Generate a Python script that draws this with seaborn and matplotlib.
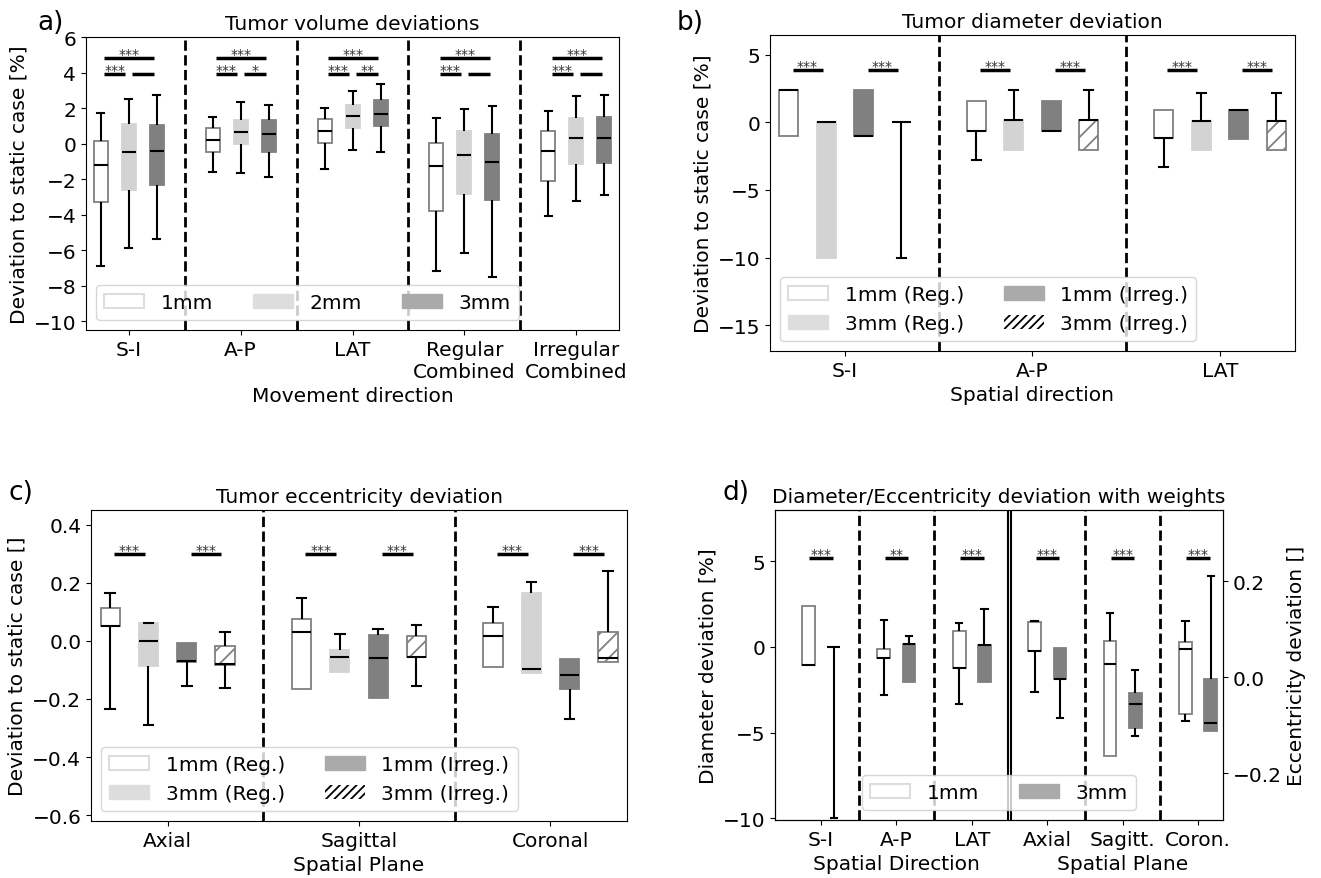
import numpy as np
import pandas as pd
import seaborn as sns
import matplotlib.pyplot as plt
from matplotlib.patches import Patch

plt.rcParams["font.size"] = 14.5
plt.rcParams["hatch.linewidth"] = 1.3

WHITE, LIGHT, DARK = "white", "#d3d3d3", "#808080"
EDGE = "#808080"

# every box is given as its five numbers: [min, q1, median, q3, max]

# a) tumor volume deviations [%]
vol_cats = ["S-I", "A-P", "LAT", "Regular\nCombined", "Irregular\nCombined"]
vol_groups = ["1mm", "2mm", "3mm"]
vol_1mm = [[-6.89, -3.28, -1.22, 0.13, 1.71],
           [-1.62, -0.49, 0.20, 0.89, 1.50],
           [-1.43, 0.02, 0.73, 1.36, 2.03],
           [-7.16, -3.82, -1.26, 0.06, 1.43],
           [-4.09, -2.11, -0.40, 0.70, 1.81]]
vol_2mm = [[-5.86, -2.60, -0.45, 1.09, 2.50],
           [-1.68, 0.00, 0.64, 1.34, 2.37],
           [-0.36, 0.87, 1.58, 2.18, 2.94],
           [-6.16, -2.82, -0.64, 0.73, 1.96],
           [-3.26, -1.17, 0.30, 1.43, 2.66]]
vol_3mm = [[-5.35, -2.35, -0.43, 1.04, 2.75],
           [-1.88, -0.45, 0.56, 1.34, 2.20],
           [-0.45, 0.98, 1.68, 2.43, 3.33],
           [-7.50, -3.20, -1.02, 0.53, 2.13],
           [-2.88, -1.09, 0.30, 1.47, 2.75]]
vol_sig_13 = ["***", "***", "***", "***", "***"]
vol_sig_12 = ["***", "***", "***", "***", "***"]
vol_sig_23 = ["", "*", "**", "", ""]

# b) tumor diameter deviation [%]
dia_cats = ["S-I", "A-P", "LAT"]
reg_groups = ["1mm (Reg.)", "3mm (Reg.)", "1mm (Irreg.)", "3mm (Irreg.)"]
dia_1mm_reg = [[-0.99, -0.99, 2.40, 2.40, 2.40],
               [-2.82, -0.62, -0.62, 1.58, 1.58],
               [-3.27, -1.19, -1.19, 0.92, 0.92]]
dia_3mm_reg = [[-10.0, -10.0, 0.00, 0.00, 0.00],
               [-2.08, -2.08, 0.17, 0.17, 2.40],
               [-2.08, -2.08, 0.10, 0.10, 2.20]]
dia_1mm_irr = [[-1.00, -1.00, -1.00, 2.40, 2.40],
               [-0.62, -0.62, -0.62, 1.60, 1.60],
               [-1.21, -1.21, 0.92, 0.92, 0.92]]
dia_3mm_irr = [[-10.0, 0.00, 0.00, 0.00, 0.00],
               [-2.08, -2.08, 0.17, 0.17, 2.40],
               [-2.08, -2.08, 0.10, 0.10, 2.20]]
dia_sig_reg = ["***", "***", "***"]
dia_sig_irr = ["***", "***", "***"]

# c) tumor eccentricity deviation []
ecc_cats = ["Axial", "Sagittal", "Coronal"]
ecc_1mm_reg = [[-0.235, 0.052, 0.052, 0.113, 0.165],
               [-0.164, -0.164, 0.029, 0.076, 0.147],
               [-0.091, -0.091, 0.016, 0.060, 0.118]]
ecc_3mm_reg = [[-0.291, -0.086, -0.002, 0.061, 0.062],
               [-0.107, -0.107, -0.055, -0.033, 0.024],
               [-0.110, -0.110, -0.097, 0.165, 0.204]]
ecc_1mm_irr = [[-0.154, -0.072, -0.070, -0.008, -0.008],
               [-0.197, -0.197, -0.060, 0.021, 0.042],
               [-0.270, -0.166, -0.119, -0.061, -0.061]]
ecc_3mm_irr = [[-0.163, -0.083, -0.080, -0.018, 0.030],
               [-0.157, -0.055, -0.055, 0.017, 0.056],
               [-0.073, -0.073, -0.060, 0.032, 0.241]]
ecc_sig_reg = ["***", "***", "***"]
ecc_sig_irr = ["***", "***", "***"]

# d) diameter [%] / eccentricity [] deviation with weights
w_cats = ["S-I", "A-P", "LAT", "Axial", "Sagitt.", "Coron."]
w_group_names = {1: "Spatial Direction", 4: "Spatial Plane"}
w_groups = ["1mm", "3mm"]
wdia_1mm = [[-1.03, -1.03, -1.03, 2.41, 2.41],
            [-2.82, -0.64, -0.64, -0.12, 1.60],
            [-3.31, -1.21, -1.21, 0.91, 1.40]]
wdia_3mm = [[-10.0, 0.00, 0.00, 0.00, 0.00],
            [-2.06, -2.06, 0.19, 0.19, 0.66],
            [-2.06, -2.06, 0.10, 0.10, 2.24]]
wecc_1mm = [[-0.030, 0.055, 0.055, 0.114, 0.116],
            [-0.163, -0.163, 0.028, 0.076, 0.133],
            [-0.091, -0.077, 0.059, 0.074, 0.118]]
wecc_3mm = [[-0.084, -0.003, -0.003, 0.061, 0.061],
            [-0.123, -0.105, -0.055, -0.033, 0.016],
            [-0.112, -0.112, -0.096, -0.004, 0.211]]
w_sig = ["***", "**", "***", "***", "***", "***"]


def to_long(cats, groups, series):
    rows = []
    for grp, boxes in zip(groups, series):
        for cat, five in zip(cats, boxes):
            rows += [(cat, grp, v) for v in five]
    return pd.DataFrame(rows, columns=["cat", "grp", "val"])


def draw_boxes(ax, df, order, groups, fills, edges, hatches, width):
    sns.boxplot(data=df, x="cat", y="val", hue="grp", order=order,
                hue_order=groups, palette=fills, saturation=1, whis=(0, 100),
                width=width, gap=0.5, linecolor="black", linewidth=1.5,
                legend=False, ax=ax)
    n = len(groups)
    step = width / n
    for p in ax.patches:
        xs = p.get_path().vertices[:, 0]
        cx = (xs.min() + xs.max()) / 2
        i = int(round((cx - round(cx)) / step + (n - 1) / 2))
        p.set_edgecolor(edges[i])
        p.set_hatch(hatches[i])
        p.set_linewidth(1.3)
    # drop the cap of a whisker with zero length
    segs = [l for l in ax.lines if len(l.get_xdata()) == 2]
    for w in segs:
        x, y = w.get_xdata(), w.get_ydata()
        if x[0] == x[1] and y[0] == y[1]:
            hits = [l for l in segs
                    if l.get_xdata()[0] != l.get_xdata()[1]
                    and l.get_ydata()[0] == l.get_ydata()[1] == y[0]
                    and np.isclose(np.mean(l.get_xdata()), x[0])]
            if hits:
                min(hits, key=lambda l: np.ptp(l.get_xdata())).set_visible(False)
    ax.set_xlabel("")
    ax.set_ylabel("")


def sig_bar(ax, x0, x1, y, label):
    ax.plot([x0, x1], [y, y], color="black", lw=2.5, solid_capstyle="butt")
    if label:
        ax.text((x0 + x1) / 2, y, label, ha="center", va="baseline",
                fontsize=10, color="#333333")


def dividers(ax, xs):
    for x in xs:
        ax.axvline(x, color="black", ls="--", lw=2)


h_empty = Patch(facecolor="white", edgecolor="#dddddd", lw=1.5)
h_light = Patch(facecolor="#dddddd", edgecolor="#dddddd")
h_dark = Patch(facecolor="#aaaaaa", edgecolor="#aaaaaa")
h_hatch = Patch(facecolor="white", edgecolor="black", lw=0, hatch="////")

fig = plt.figure(figsize=(13.21, 8.79), dpi=100)

# ---------------- a)
ax = fig.add_axes([0.0651, 0.6234, 0.4035, 0.3333])
draw_boxes(ax, to_long(vol_cats, vol_groups, [vol_1mm, vol_2mm, vol_3mm]),
           vol_cats, vol_groups, [WHITE, LIGHT, DARK], [EDGE, LIGHT, DARK],
           ["", "", ""], 0.75)
for c in range(len(vol_cats)):
    sig_bar(ax, c - 0.22, c + 0.23, 4.8, vol_sig_13[c])
    sig_bar(ax, c - 0.22, c - 0.03, 3.9, vol_sig_12[c])
    sig_bar(ax, c + 0.03, c + 0.23, 3.9, vol_sig_23[c])
dividers(ax, [0.5, 1.5, 2.5, 3.5])
ax.set_xlim(-0.38, 4.38)
ax.set_ylim(-10.5, 6)
ax.set_yticks(range(-10, 7, 2))
ax.set_xticks(range(len(vol_cats)), vol_cats)
ax.set_xlabel("Movement direction")
ax.set_ylabel("Deviation to static case [%]")
ax.set_title("Tumor volume deviations", fontsize=14.5)
ax.legend([h_empty, h_light, h_dark], vol_groups, ncol=3, loc="lower left")

# ---------------- b)
ax = fig.add_axes([0.5829, 0.5995, 0.3974, 0.3595])
draw_boxes(ax, to_long(dia_cats, reg_groups,
                       [dia_1mm_reg, dia_3mm_reg, dia_1mm_irr, dia_3mm_irr]),
           dia_cats, reg_groups, [WHITE, LIGHT, DARK, WHITE],
           [EDGE, LIGHT, DARK, EDGE], ["", "", "", "//"], 0.8)
for c in range(len(dia_cats)):
    sig_bar(ax, c - 0.28, c - 0.12, 3.9, dia_sig_reg[c])
    sig_bar(ax, c + 0.12, c + 0.28, 3.9, dia_sig_irr[c])
dividers(ax, [0.5, 1.5])
ax.set_xlim(-0.4, 2.4)
ax.set_ylim(-16.9, 6.45)
ax.set_yticks([-15, -10, -5, 0, 5])
ax.set_xticks(range(len(dia_cats)), dia_cats)
ax.set_xlabel("Spatial direction")
ax.set_ylabel("Deviation to static case [%]")
ax.set_title("Tumor diameter deviation", fontsize=14.5)
ax.legend([h_empty, h_light, h_dark, h_hatch], reg_groups, ncol=2,
          loc="lower left")

# ---------------- c)
ax = fig.add_axes([0.0689, 0.0648, 0.4058, 0.3538])
draw_boxes(ax, to_long(ecc_cats, reg_groups,
                       [ecc_1mm_reg, ecc_3mm_reg, ecc_1mm_irr, ecc_3mm_irr]),
           ecc_cats, reg_groups, [WHITE, LIGHT, DARK, WHITE],
           [EDGE, LIGHT, DARK, EDGE], ["", "", "", "//"], 0.8)
for c in range(len(ecc_cats)):
    sig_bar(ax, c - 0.28, c - 0.12, 0.30, ecc_sig_reg[c])
    sig_bar(ax, c + 0.12, c + 0.28, 0.30, ecc_sig_irr[c])
dividers(ax, [0.5, 1.5])
ax.set_xlim(-0.4, 2.4)
ax.set_ylim(-0.62, 0.45)
ax.set_yticks([-0.6, -0.4, -0.2, 0.0, 0.2, 0.4])
ax.set_xticks(range(len(ecc_cats)), ecc_cats)
ax.set_xlabel("Spatial Plane")
ax.set_ylabel("Deviation to static case []")
ax.set_title("Tumor eccentricity deviation", fontsize=14.5)
ax.legend([h_empty, h_light, h_dark, h_hatch], reg_groups, ncol=2,
          loc="lower left")

# ---------------- d)
ax = fig.add_axes([0.5867, 0.0660, 0.3391, 0.3527])
ax2 = ax.twinx()
draw_boxes(ax, to_long(w_cats[:3], w_groups, [wdia_1mm, wdia_3mm]),
           w_cats, w_groups, [WHITE, DARK], [EDGE, DARK], ["", ""], 0.67)
draw_boxes(ax2, to_long(w_cats[3:], w_groups, [wecc_1mm, wecc_3mm]),
           w_cats, w_groups, [WHITE, DARK], [EDGE, DARK], ["", ""], 0.67)
for c in range(len(w_cats)):
    sig_bar(ax, c - 0.155, c + 0.155, 5.2, w_sig[c])
dividers(ax, [0.5, 1.5, 3.5, 4.5])
ax.axvline(2.475, color="black", lw=1.5)
ax.axvline(2.525, color="black", lw=1.5)
ax.set_xlim(-0.61, 5.33)
ax.set_ylim(-10.1, 8.0)
ax.set_yticks([-10, -5, 0, 5])
ax2.set_ylim(-0.297, 0.348)
ax2.set_yticks([-0.2, 0.0, 0.2])
ax2.yaxis.tick_right()
ax.set_xticks(range(len(w_cats)), w_cats)
for pos, name in w_group_names.items():
    ax.annotate(name, xy=(pos, 0), xycoords=("data", "axes fraction"),
                xytext=(0, -24.5), textcoords="offset points",
                ha="center", va="top")
ax.set_ylabel("Diameter deviation [%]")
ax2.set_ylabel("Eccentricity deviation []")
ax.set_title("Diameter/Eccentricity deviation with weights", fontsize=14.5)
ax2.legend([h_empty, h_dark], w_groups, ncol=2, loc="lower center")

# panel letters
fig.text(0.028, 0.974, "a)", fontsize=19, va="center")
fig.text(0.5125, 0.974, "b)", fontsize=19, va="center")
fig.text(0.0068, 0.439, "c)", fontsize=19, va="center")
fig.text(0.5466, 0.439, "d)", fontsize=19, va="center")

fig.savefig("out.png", dpi=100)
